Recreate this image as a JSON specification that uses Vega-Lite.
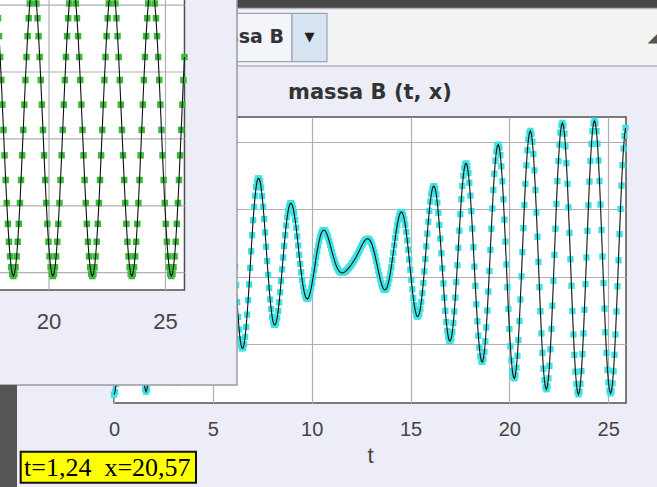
{
"$schema":"https://vega.github.io/schema/vega-lite/v6.json",
"width":512,"height":286,
"autosize":{"type":"none"},
"padding":{"left":114,"top":117,"right":31,"bottom":84},
"background":"#ededf7",
"config":{"view":{"fill":"white","stroke":"#505050","strokeWidth":1.5}},
"datasets":{
"one":[{"k":1}],
"og":[{"t":20},{"t":25}],
"oh":[{"x":10},{"x":15},{"x":20},{"x":25},{"x":30}],
"b":[{"t":0,"x":11.23},{"t":0.051,"x":11.42},{"t":0.101,"x":12.0},{"t":0.152,"x":12.93},{"t":0.203,"x":14.19},{"t":0.253,"x":15.73},{"t":0.304,"x":17.48},{"t":0.354,"x":19.38},{"t":0.405,"x":21.35},{"t":0.456,"x":23.33},{"t":0.506,"x":25.23},{"t":0.557,"x":26.99},{"t":0.608,"x":28.52},{"t":0.658,"x":29.79},{"t":0.709,"x":30.73},{"t":0.76,"x":31.32},{"t":0.81,"x":31.53},{"t":0.861,"x":31.35},{"t":0.911,"x":30.79},{"t":0.962,"x":29.87},{"t":1.013,"x":28.63},{"t":1.063,"x":27.12},{"t":1.114,"x":25.39},{"t":1.165,"x":23.51},{"t":1.215,"x":21.56},{"t":1.266,"x":19.6},{"t":1.316,"x":17.72},{"t":1.367,"x":15.98},{"t":1.418,"x":14.46},{"t":1.468,"x":13.2},{"t":1.519,"x":12.26},{"t":1.57,"x":11.67},{"t":1.62,"x":11.45},{"t":1.671,"x":11.62},{"t":1.722,"x":12.16},{"t":1.772,"x":13.04},{"t":1.823,"x":14.25},{"t":1.873,"x":15.72},{"t":1.924,"x":17.41},{"t":1.975,"x":19.24},{"t":2.025,"x":21.15},{"t":2.076,"x":23.06},{"t":2.127,"x":24.9},{"t":2.177,"x":26.61},{"t":2.228,"x":28.1},{"t":2.279,"x":29.34},{"t":2.329,"x":30.26},{"t":2.38,"x":30.85},{"t":2.43,"x":31.07},{"t":2.481,"x":30.93},{"t":2.532,"x":30.42},{"t":2.582,"x":29.57},{"t":2.633,"x":28.41},{"t":2.684,"x":26.99},{"t":2.734,"x":25.37},{"t":2.785,"x":23.6},{"t":2.836,"x":21.75},{"t":2.886,"x":19.91},{"t":2.937,"x":18.13},{"t":2.987,"x":16.48},{"t":3.038,"x":15.03},{"t":3.089,"x":13.83},{"t":3.139,"x":12.93},{"t":3.19,"x":12.35},{"t":3.241,"x":12.13},{"t":3.291,"x":12.25},{"t":3.342,"x":12.73},{"t":3.393,"x":13.53},{"t":3.443,"x":14.63},{"t":3.494,"x":15.98},{"t":3.544,"x":17.52},{"t":3.595,"x":19.2},{"t":3.646,"x":20.96},{"t":3.696,"x":22.72},{"t":3.747,"x":24.42},{"t":3.798,"x":25.99},{"t":3.848,"x":27.38},{"t":3.899,"x":28.53},{"t":3.95,"x":29.4},{"t":4.0,"x":29.96},{"t":4.051,"x":30.19},{"t":4.101,"x":30.08},{"t":4.152,"x":29.65},{"t":4.203,"x":28.9},{"t":4.253,"x":27.88},{"t":4.304,"x":26.62},{"t":4.355,"x":25.17},{"t":4.405,"x":23.59},{"t":4.456,"x":21.94},{"t":4.507,"x":20.28},{"t":4.557,"x":18.68},{"t":4.608,"x":17.2},{"t":4.658,"x":15.89},{"t":4.709,"x":14.8},{"t":4.76,"x":13.98},{"t":4.81,"x":13.44},{"t":4.861,"x":13.21},{"t":4.912,"x":13.3},{"t":4.962,"x":13.69},{"t":5.013,"x":14.37},{"t":5.064,"x":15.31},{"t":5.114,"x":16.47},{"t":5.165,"x":17.81},{"t":5.215,"x":19.27},{"t":5.266,"x":20.79},{"t":5.317,"x":22.32},{"t":5.367,"x":23.8},{"t":5.418,"x":25.18},{"t":5.469,"x":26.39},{"t":5.519,"x":27.41},{"t":5.57,"x":28.18},{"t":5.62,"x":28.69},{"t":5.671,"x":28.91},{"t":5.722,"x":28.85},{"t":5.772,"x":28.51},{"t":5.823,"x":27.9},{"t":5.874,"x":27.06},{"t":5.924,"x":26.01},{"t":5.975,"x":24.8},{"t":6.026,"x":23.48},{"t":6.076,"x":22.09},{"t":6.127,"x":20.7},{"t":6.177,"x":19.36},{"t":6.228,"x":18.11},{"t":6.279,"x":17.0},{"t":6.329,"x":16.07},{"t":6.38,"x":15.36},{"t":6.431,"x":14.89},{"t":6.481,"x":14.67},{"t":6.532,"x":14.7},{"t":6.583,"x":14.99},{"t":6.633,"x":15.52},{"t":6.684,"x":16.26},{"t":6.734,"x":17.18},{"t":6.785,"x":18.25},{"t":6.836,"x":19.42},{"t":6.886,"x":20.65},{"t":6.937,"x":21.88},{"t":6.988,"x":23.08},{"t":7.038,"x":24.19},{"t":7.089,"x":25.18},{"t":7.14,"x":26.01},{"t":7.19,"x":26.65},{"t":7.241,"x":27.09},{"t":7.291,"x":27.3},{"t":7.342,"x":27.29},{"t":7.393,"x":27.05},{"t":7.443,"x":26.61},{"t":7.494,"x":25.98},{"t":7.545,"x":25.2},{"t":7.595,"x":24.28},{"t":7.646,"x":23.28},{"t":7.697,"x":22.22},{"t":7.747,"x":21.16},{"t":7.798,"x":20.12},{"t":7.848,"x":19.16},{"t":7.899,"x":18.3},{"t":7.95,"x":17.58},{"t":8.0,"x":17.01},{"t":8.051,"x":16.62},{"t":8.102,"x":16.42},{"t":8.152,"x":16.41},{"t":8.203,"x":16.58},{"t":8.254,"x":16.93},{"t":8.304,"x":17.44},{"t":8.355,"x":18.09},{"t":8.405,"x":18.84},{"t":8.456,"x":19.67},{"t":8.507,"x":20.54},{"t":8.557,"x":21.42},{"t":8.608,"x":22.28},{"t":8.659,"x":23.08},{"t":8.709,"x":23.8},{"t":8.76,"x":24.41},{"t":8.81,"x":24.89},{"t":8.861,"x":25.23},{"t":8.912,"x":25.42},{"t":8.962,"x":25.46},{"t":9.013,"x":25.34},{"t":9.064,"x":25.08},{"t":9.114,"x":24.7},{"t":9.165,"x":24.21},{"t":9.216,"x":23.63},{"t":9.266,"x":22.99},{"t":9.317,"x":22.31},{"t":9.367,"x":21.62},{"t":9.418,"x":20.95},{"t":9.469,"x":20.32},{"t":9.519,"x":19.75},{"t":9.57,"x":19.26},{"t":9.621,"x":18.86},{"t":9.671,"x":18.57},{"t":9.722,"x":18.4},{"t":9.773,"x":18.34},{"t":9.823,"x":18.39},{"t":9.874,"x":18.55},{"t":9.924,"x":18.8},{"t":9.975,"x":19.14},{"t":10.026,"x":19.54},{"t":10.076,"x":19.99},{"t":10.127,"x":20.47},{"t":10.178,"x":20.96},{"t":10.228,"x":21.44},{"t":10.279,"x":21.89},{"t":10.33,"x":22.31},{"t":10.38,"x":22.68},{"t":10.431,"x":22.98},{"t":10.481,"x":23.21},{"t":10.532,"x":23.37},{"t":10.583,"x":23.45},{"t":10.633,"x":23.46},{"t":10.684,"x":23.4},{"t":10.735,"x":23.28},{"t":10.785,"x":23.1},{"t":10.836,"x":22.89},{"t":10.887,"x":22.63},{"t":10.937,"x":22.36},{"t":10.988,"x":22.08},{"t":11.038,"x":21.79},{"t":11.089,"x":21.52},{"t":11.14,"x":21.26},{"t":11.19,"x":21.03},{"t":11.241,"x":20.82},{"t":11.292,"x":20.65},{"t":11.342,"x":20.51},{"t":11.393,"x":20.4},{"t":11.444,"x":20.33},{"t":11.494,"x":20.29},{"t":11.545,"x":20.28},{"t":11.595,"x":20.29},{"t":11.646,"x":20.33},{"t":11.697,"x":20.37},{"t":11.747,"x":20.44},{"t":11.798,"x":20.51},{"t":11.849,"x":20.6},{"t":11.899,"x":20.69},{"t":11.95,"x":20.78},{"t":12.0,"x":20.88},{"t":12.051,"x":20.99},{"t":12.102,"x":21.1},{"t":12.152,"x":21.22},{"t":12.203,"x":21.35},{"t":12.254,"x":21.48},{"t":12.304,"x":21.62},{"t":12.355,"x":21.77},{"t":12.406,"x":21.92},{"t":12.456,"x":22.07},{"t":12.507,"x":22.22},{"t":12.557,"x":22.37},{"t":12.608,"x":22.5},{"t":12.659,"x":22.62},{"t":12.709,"x":22.72},{"t":12.76,"x":22.78},{"t":12.811,"x":22.82},{"t":12.861,"x":22.81},{"t":12.912,"x":22.76},{"t":12.963,"x":22.66},{"t":13.013,"x":22.52},{"t":13.064,"x":22.32},{"t":13.114,"x":22.08},{"t":13.165,"x":21.81},{"t":13.216,"x":21.49},{"t":13.266,"x":21.16},{"t":13.317,"x":20.81},{"t":13.368,"x":20.45},{"t":13.418,"x":20.11},{"t":13.469,"x":19.79},{"t":13.52,"x":19.51},{"t":13.57,"x":19.28},{"t":13.621,"x":19.12},{"t":13.671,"x":19.02},{"t":13.722,"x":19.01},{"t":13.773,"x":19.09},{"t":13.823,"x":19.25},{"t":13.874,"x":19.5},{"t":13.925,"x":19.83},{"t":13.975,"x":20.24},{"t":14.026,"x":20.71},{"t":14.077,"x":21.23},{"t":14.127,"x":21.78},{"t":14.178,"x":22.33},{"t":14.228,"x":22.88},{"t":14.279,"x":23.39},{"t":14.33,"x":23.86},{"t":14.38,"x":24.24},{"t":14.431,"x":24.54},{"t":14.482,"x":24.73},{"t":14.532,"x":24.81},{"t":14.583,"x":24.76},{"t":14.634,"x":24.58},{"t":14.684,"x":24.27},{"t":14.735,"x":23.85},{"t":14.785,"x":23.31},{"t":14.836,"x":22.69},{"t":14.887,"x":22.0},{"t":14.937,"x":21.27},{"t":14.988,"x":20.51},{"t":15.039,"x":19.77},{"t":15.089,"x":19.06},{"t":15.14,"x":18.42},{"t":15.191,"x":17.88},{"t":15.241,"x":17.45},{"t":15.292,"x":17.16},{"t":15.342,"x":17.03},{"t":15.393,"x":17.06},{"t":15.444,"x":17.25},{"t":15.494,"x":17.61},{"t":15.545,"x":18.12},{"t":15.596,"x":18.77},{"t":15.646,"x":19.53},{"t":15.697,"x":20.39},{"t":15.747,"x":21.31},{"t":15.798,"x":22.25},{"t":15.849,"x":23.19},{"t":15.899,"x":24.08},{"t":15.95,"x":24.89},{"t":16.001,"x":25.58},{"t":16.051,"x":26.13},{"t":16.102,"x":26.51},{"t":16.153,"x":26.71},{"t":16.203,"x":26.71},{"t":16.254,"x":26.5},{"t":16.304,"x":26.1},{"t":16.355,"x":25.5},{"t":16.406,"x":24.74},{"t":16.456,"x":23.84},{"t":16.507,"x":22.82},{"t":16.558,"x":21.73},{"t":16.608,"x":20.61},{"t":16.659,"x":19.49},{"t":16.71,"x":18.43},{"t":16.76,"x":17.46},{"t":16.811,"x":16.62},{"t":16.861,"x":15.96},{"t":16.912,"x":15.49},{"t":16.963,"x":15.24},{"t":17.013,"x":15.22},{"t":17.064,"x":15.43},{"t":17.115,"x":15.88},{"t":17.165,"x":16.55},{"t":17.216,"x":17.41},{"t":17.267,"x":18.44},{"t":17.317,"x":19.6},{"t":17.368,"x":20.85},{"t":17.418,"x":22.14},{"t":17.469,"x":23.42},{"t":17.52,"x":24.64},{"t":17.57,"x":25.76},{"t":17.621,"x":26.73},{"t":17.672,"x":27.5},{"t":17.722,"x":28.06},{"t":17.773,"x":28.37},{"t":17.824,"x":28.41},{"t":17.874,"x":28.19},{"t":17.925,"x":27.7},{"t":17.975,"x":26.97},{"t":18.026,"x":26.01},{"t":18.077,"x":24.87},{"t":18.127,"x":23.57},{"t":18.178,"x":22.18},{"t":18.229,"x":20.74},{"t":18.279,"x":19.31},{"t":18.33,"x":17.94},{"t":18.381,"x":16.68},{"t":18.431,"x":15.6},{"t":18.482,"x":14.72},{"t":18.532,"x":14.09},{"t":18.583,"x":13.73},{"t":18.634,"x":13.66},{"t":18.684,"x":13.89},{"t":18.735,"x":14.4},{"t":18.786,"x":15.2},{"t":18.836,"x":16.23},{"t":18.887,"x":17.48},{"t":18.937,"x":18.89},{"t":18.988,"x":20.42},{"t":19.039,"x":21.99},{"t":19.089,"x":23.56},{"t":19.14,"x":25.06},{"t":19.191,"x":26.44},{"t":19.241,"x":27.64},{"t":19.292,"x":28.61},{"t":19.343,"x":29.31},{"t":19.393,"x":29.71},{"t":19.444,"x":29.81},{"t":19.494,"x":29.58},{"t":19.545,"x":29.03},{"t":19.596,"x":28.19},{"t":19.646,"x":27.08},{"t":19.697,"x":25.74},{"t":19.748,"x":24.23},{"t":19.798,"x":22.6},{"t":19.849,"x":20.9},{"t":19.9,"x":19.21},{"t":19.95,"x":17.6},{"t":20.001,"x":16.11},{"t":20.051,"x":14.82},{"t":20.102,"x":13.77},{"t":20.153,"x":13.0},{"t":20.203,"x":12.56},{"t":20.254,"x":12.44},{"t":20.305,"x":12.67},{"t":20.355,"x":13.24},{"t":20.406,"x":14.12},{"t":20.457,"x":15.29},{"t":20.507,"x":16.7},{"t":20.558,"x":18.3},{"t":20.608,"x":20.02},{"t":20.659,"x":21.82},{"t":20.71,"x":23.6},{"t":20.76,"x":25.32},{"t":20.811,"x":26.89},{"t":20.862,"x":28.27},{"t":20.912,"x":29.39},{"t":20.963,"x":30.2},{"t":21.014,"x":30.69},{"t":21.064,"x":30.83},{"t":21.115,"x":30.6},{"t":21.165,"x":30.02},{"t":21.216,"x":29.11},{"t":21.267,"x":27.89},{"t":21.317,"x":26.43},{"t":21.368,"x":24.76},{"t":21.419,"x":22.96},{"t":21.469,"x":21.09},{"t":21.52,"x":19.22},{"t":21.571,"x":17.43},{"t":21.621,"x":15.78},{"t":21.672,"x":14.34},{"t":21.722,"x":13.16},{"t":21.773,"x":12.3},{"t":21.824,"x":11.78},{"t":21.874,"x":11.63},{"t":21.925,"x":11.85},{"t":21.976,"x":12.44},{"t":22.026,"x":13.37},{"t":22.077,"x":14.61},{"t":22.127,"x":16.12},{"t":22.178,"x":17.84},{"t":22.229,"x":19.69},{"t":22.279,"x":21.62},{"t":22.33,"x":23.55},{"t":22.381,"x":25.4},{"t":22.431,"x":27.1},{"t":22.482,"x":28.59},{"t":22.533,"x":29.81},{"t":22.583,"x":30.71},{"t":22.634,"x":31.25},{"t":22.684,"x":31.42},{"t":22.735,"x":31.21},{"t":22.786,"x":30.62},{"t":22.836,"x":29.68},{"t":22.887,"x":28.42},{"t":22.938,"x":26.89},{"t":22.988,"x":25.14},{"t":23.039,"x":23.25},{"t":23.09,"x":21.29},{"t":23.14,"x":19.32},{"t":23.191,"x":17.44},{"t":23.241,"x":15.7},{"t":23.292,"x":14.18},{"t":23.343,"x":12.93},{"t":23.393,"x":12.0},{"t":23.444,"x":11.44},{"t":23.495,"x":11.25},{"t":23.545,"x":11.45},{"t":23.596,"x":12.04},{"t":23.647,"x":12.98},{"t":23.697,"x":14.24},{"t":23.748,"x":15.78},{"t":23.798,"x":17.54},{"t":23.849,"x":19.44},{"t":23.9,"x":21.42},{"t":23.95,"x":23.4},{"t":24.001,"x":25.3},{"t":24.052,"x":27.06},{"t":24.102,"x":28.6},{"t":24.153,"x":29.86},{"t":24.204,"x":30.8},{"t":24.254,"x":31.38},{"t":24.305,"x":31.58},{"t":24.355,"x":31.39},{"t":24.406,"x":30.81},{"t":24.457,"x":29.88},{"t":24.507,"x":28.63},{"t":24.558,"x":27.1},{"t":24.609,"x":25.36},{"t":24.659,"x":23.46},{"t":24.71,"x":21.49},{"t":24.761,"x":19.52},{"t":24.811,"x":17.62},{"t":24.862,"x":15.87},{"t":24.912,"x":14.33},{"t":24.963,"x":13.07},{"t":25.014,"x":12.13},{"t":25.064,"x":11.54},{"t":25.115,"x":11.33},{"t":25.166,"x":11.5},{"t":25.216,"x":12.06},{"t":25.267,"x":12.97},{"t":25.318,"x":14.19},{"t":25.368,"x":15.7},{"t":25.419,"x":17.41},{"t":25.469,"x":19.28},{"t":25.52,"x":21.22},{"t":25.571,"x":23.16},{"t":25.621,"x":25.03},{"t":25.672,"x":26.76},{"t":25.723,"x":28.28},{"t":25.773,"x":29.53},{"t":25.824,"x":30.47},{"t":25.874,"x":31.05}],
"g":[{"t":17.811,"x":29.02},{"t":17.858,"x":27.68},{"t":17.905,"x":26.12},{"t":17.952,"x":24.4},{"t":17.999,"x":22.56},{"t":18.046,"x":20.67},{"t":18.093,"x":18.77},{"t":18.14,"x":16.93},{"t":18.188,"x":15.21},{"t":18.235,"x":13.65},{"t":18.282,"x":12.31},{"t":18.329,"x":11.22},{"t":18.376,"x":10.41},{"t":18.423,"x":9.92},{"t":18.47,"x":9.75},{"t":18.517,"x":9.92},{"t":18.564,"x":10.41},{"t":18.611,"x":11.22},{"t":18.658,"x":12.31},{"t":18.705,"x":13.65},{"t":18.753,"x":15.21},{"t":18.8,"x":16.93},{"t":18.847,"x":18.77},{"t":18.894,"x":20.67},{"t":18.941,"x":22.56},{"t":18.988,"x":24.4},{"t":19.035,"x":26.12},{"t":19.082,"x":27.68},{"t":19.129,"x":29.02},{"t":19.176,"x":30.12},{"t":19.223,"x":30.92},{"t":19.27,"x":31.41},{"t":19.317,"x":31.58},{"t":19.365,"x":31.41},{"t":19.412,"x":30.92},{"t":19.459,"x":30.12},{"t":19.506,"x":29.02},{"t":19.553,"x":27.68},{"t":19.6,"x":26.12},{"t":19.647,"x":24.4},{"t":19.694,"x":22.56},{"t":19.741,"x":20.67},{"t":19.788,"x":18.77},{"t":19.835,"x":16.93},{"t":19.882,"x":15.21},{"t":19.93,"x":13.65},{"t":19.977,"x":12.31},{"t":20.024,"x":11.22},{"t":20.071,"x":10.41},{"t":20.118,"x":9.92},{"t":20.165,"x":9.75},{"t":20.212,"x":9.92},{"t":20.259,"x":10.41},{"t":20.306,"x":11.22},{"t":20.353,"x":12.31},{"t":20.4,"x":13.65},{"t":20.448,"x":15.21},{"t":20.495,"x":16.93},{"t":20.542,"x":18.77},{"t":20.589,"x":20.67},{"t":20.636,"x":22.56},{"t":20.683,"x":24.4},{"t":20.73,"x":26.12},{"t":20.777,"x":27.68},{"t":20.824,"x":29.02},{"t":20.871,"x":30.12},{"t":20.918,"x":30.92},{"t":20.965,"x":31.41},{"t":21.013,"x":31.58},{"t":21.06,"x":31.41},{"t":21.107,"x":30.92},{"t":21.154,"x":30.12},{"t":21.201,"x":29.02},{"t":21.248,"x":27.68},{"t":21.295,"x":26.12},{"t":21.342,"x":24.4},{"t":21.389,"x":22.56},{"t":21.436,"x":20.67},{"t":21.483,"x":18.77},{"t":21.53,"x":16.93},{"t":21.578,"x":15.21},{"t":21.625,"x":13.65},{"t":21.672,"x":12.31},{"t":21.719,"x":11.22},{"t":21.766,"x":10.41},{"t":21.813,"x":9.92},{"t":21.86,"x":9.75},{"t":21.907,"x":9.92},{"t":21.954,"x":10.41},{"t":22.001,"x":11.22},{"t":22.048,"x":12.31},{"t":22.095,"x":13.65},{"t":22.143,"x":15.21},{"t":22.19,"x":16.93},{"t":22.237,"x":18.77},{"t":22.284,"x":20.67},{"t":22.331,"x":22.56},{"t":22.378,"x":24.4},{"t":22.425,"x":26.12},{"t":22.472,"x":27.68},{"t":22.519,"x":29.02},{"t":22.566,"x":30.12},{"t":22.613,"x":30.92},{"t":22.66,"x":31.41},{"t":22.708,"x":31.58},{"t":22.755,"x":31.41},{"t":22.802,"x":30.92},{"t":22.849,"x":30.12},{"t":22.896,"x":29.02},{"t":22.943,"x":27.68},{"t":22.99,"x":26.12},{"t":23.037,"x":24.4},{"t":23.084,"x":22.56},{"t":23.131,"x":20.67},{"t":23.178,"x":18.77},{"t":23.225,"x":16.93},{"t":23.273,"x":15.21},{"t":23.32,"x":13.65},{"t":23.367,"x":12.31},{"t":23.414,"x":11.22},{"t":23.461,"x":10.41},{"t":23.508,"x":9.92},{"t":23.555,"x":9.75},{"t":23.602,"x":9.92},{"t":23.649,"x":10.41},{"t":23.696,"x":11.22},{"t":23.743,"x":12.31},{"t":23.79,"x":13.65},{"t":23.838,"x":15.21},{"t":23.885,"x":16.93},{"t":23.932,"x":18.77},{"t":23.979,"x":20.67},{"t":24.026,"x":22.56},{"t":24.073,"x":24.4},{"t":24.12,"x":26.12},{"t":24.167,"x":27.68},{"t":24.214,"x":29.02},{"t":24.261,"x":30.12},{"t":24.308,"x":30.92},{"t":24.355,"x":31.41},{"t":24.403,"x":31.58},{"t":24.45,"x":31.41},{"t":24.497,"x":30.92},{"t":24.544,"x":30.12},{"t":24.591,"x":29.02},{"t":24.638,"x":27.68},{"t":24.685,"x":26.12},{"t":24.732,"x":24.4},{"t":24.779,"x":22.56},{"t":24.826,"x":20.67},{"t":24.873,"x":18.77},{"t":24.92,"x":16.93},{"t":24.968,"x":15.21},{"t":25.015,"x":13.65},{"t":25.062,"x":12.31},{"t":25.109,"x":11.22},{"t":25.156,"x":10.41},{"t":25.203,"x":9.92},{"t":25.25,"x":9.75},{"t":25.297,"x":9.92},{"t":25.344,"x":10.41},{"t":25.391,"x":11.22},{"t":25.438,"x":12.31},{"t":25.485,"x":13.65},{"t":25.533,"x":15.21},{"t":25.58,"x":16.93},{"t":25.627,"x":18.77},{"t":25.674,"x":20.67},{"t":25.721,"x":22.56},{"t":25.768,"x":24.4},{"t":25.815,"x":26.12}]
},
"layer":[
{
"data":{"name":"b"},
"layer":[
{"mark":{"type":"point","shape":"square","filled":true,"size":40,"color":"#3fe2e2","opacity":1},
"encoding":{
"x":{"field":"t","type":"quantitative","scale":{"domain":[0,25.9],"nice":false,"zero":false},
"axis":{"values":[0,5,10,15,20,25],"grid":true,"gridColor":"#b0b0b0","gridWidth":1.2,"domain":false,"ticks":false,"labelFont":"Liberation Sans","labelFontSize":20,"labelColor":"#444444","labelPadding":16,"labelFlush":false,"title":"t","titleFont":"Liberation Sans","titleFontSize":22,"titleFontWeight":"normal","titleColor":"#444444","titlePadding":6}},
"y":{"field":"x","type":"quantitative","scale":{"domain":[10.61,31.86],"nice":false,"zero":false},
"axis":{"values":[15,20,25,30],"grid":true,"gridColor":"#b0b0b0","gridWidth":1.2,"domain":false,"ticks":false,"labels":false,"title":null}}}},
{"mark":{"type":"line","color":"#111111","strokeWidth":1.1},
"encoding":{
"x":{"field":"t","type":"quantitative","scale":{"domain":[0,25.9],"nice":false,"zero":false},"title":"t"},
"y":{"field":"x","type":"quantitative","scale":{"domain":[10.61,31.86],"nice":false,"zero":false},"title":null}}},
{"data":{"name":"one"},"mark":{"type":"text","text":"massa B (t, x)","font":"DejaVu Sans","fontSize":21,"fontWeight":"bold","color":"#333333","align":"center","baseline":"alphabetic"},
"encoding":{"x":{"datum":12.95,"type":"quantitative","scale":{"domain":[0,25.9],"nice":false,"zero":false},"title":"t"},"y":{"datum":33.2,"type":"quantitative","scale":{"domain":[10.61,31.86],"nice":false,"zero":false},"title":null}}}
]
},
{
"layer":[
{"data":{"name":"one"},"mark":{"type":"rect","fill":"#484848"},
"encoding":{"x":{"datum":28.069,"type":"quantitative","scale":{"domain":[22.79,44.764],"nice":false,"zero":false},"axis":null},"x2":{"datum":46.438},"y":{"datum":30.755,"type":"quantitative","scale":{"domain":[0.262,21.637],"nice":false,"zero":false},"axis":null},"y2":{"datum":29.746}}},
{"data":{"name":"one"},"mark":{"type":"rect","fill":"#f3f3f3","stroke":"#b4b4bc","strokeWidth":1.5},
"encoding":{"x":{"datum":28.069,"type":"quantitative","scale":{"domain":[22.79,44.764],"nice":false,"zero":false},"axis":null},"x2":{"datum":46.438},"y":{"datum":29.746,"type":"quantitative","scale":{"domain":[0.262,21.637],"nice":false,"zero":false},"axis":null},"y2":{"datum":25.448}}},
{"data":{"name":"one"},"mark":{"type":"rect","fill":"#f3f5fa","stroke":"#98a6bc","strokeWidth":1.2},
"encoding":{"x":{"datum":26.481,"type":"quantitative","scale":{"domain":[22.79,44.764],"nice":false,"zero":false},"axis":null},"x2":{"datum":30.429},"y":{"datum":29.387,"type":"quantitative","scale":{"domain":[0.262,21.637],"nice":false,"zero":false},"axis":null},"y2":{"datum":25.77}}},
{"data":{"name":"one"},"mark":{"type":"rect","fill":"#d9e4f3","stroke":"#98a6bc","strokeWidth":1.2},
"encoding":{"x":{"datum":30.429,"type":"quantitative","scale":{"domain":[22.79,44.764],"nice":false,"zero":false},"axis":null},"x2":{"datum":31.931},"y":{"datum":29.387,"type":"quantitative","scale":{"domain":[0.262,21.637],"nice":false,"zero":false},"axis":null},"y2":{"datum":25.77}}},
{"data":{"name":"one"},"mark":{"type":"text","text":"massa B","font":"DejaVu Sans","fontSize":19,"fontWeight":"bold","color":"#333333","align":"right","baseline":"middle"},
"encoding":{"x":{"datum":30.086,"type":"quantitative","scale":{"domain":[22.79,44.764],"nice":false,"zero":false},"axis":null},"y":{"datum":27.616,"type":"quantitative","scale":{"domain":[0.262,21.637],"nice":false,"zero":false},"axis":null}}},
{"data":{"name":"one"},"mark":{"type":"text","text":"▼","font":"DejaVu Sans","fontSize":13,"color":"#222222","align":"center","baseline":"middle"},
"encoding":{"x":{"datum":31.18,"type":"quantitative","scale":{"domain":[22.79,44.764],"nice":false,"zero":false},"axis":null},"y":{"datum":27.58,"type":"quantitative","scale":{"domain":[0.262,21.637],"nice":false,"zero":false},"axis":null}}},
{"data":{"name":"one"},"mark":{"type":"text","text":"◢","font":"DejaVu Sans","fontSize":13,"color":"#555555","align":"center","baseline":"middle"},
"encoding":{"x":{"datum":45.9,"type":"quantitative","scale":{"domain":[22.79,44.764],"nice":false,"zero":false},"axis":null},"y":{"datum":27.54,"type":"quantitative","scale":{"domain":[0.262,21.637],"nice":false,"zero":false},"axis":null}}},
{"data":{"name":"one"},"mark":{"type":"rect","fill":"#ededf7","stroke":"#9a9aa6","strokeWidth":1.5},
"encoding":{"x":{"datum":17.682,"type":"quantitative","scale":{"domain":[22.79,44.764],"nice":false,"zero":false},"axis":null},"x2":{"datum":28.069},"y":{"datum":33.371,"type":"quantitative","scale":{"domain":[0.262,21.637],"nice":false,"zero":false},"axis":null},"y2":{"datum":1.607}}},
{"data":{"name":"one"},"mark":{"type":"rect","fill":"white","stroke":"#505050","strokeWidth":1.5},
"encoding":{"x":{"datum":17.682,"type":"quantitative","scale":{"domain":[22.79,44.764],"nice":false,"zero":false},"axis":null},"x2":{"datum":25.815},"y":{"datum":33.371,"type":"quantitative","scale":{"domain":[0.262,21.637],"nice":false,"zero":false},"axis":null},"y2":{"datum":8.707}}},
{"data":{"name":"og"},"mark":{"type":"rule","color":"#b0b0b0","strokeWidth":1.2},
"encoding":{"x":{"field":"t","type":"quantitative","scale":{"domain":[22.79,44.764],"nice":false,"zero":false},"axis":null},"y":{"datum":8.707,"type":"quantitative","scale":{"domain":[0.262,21.637],"nice":false,"zero":false},"axis":null},"y2":{"datum":33.371}}},
{"data":{"name":"oh"},"mark":{"type":"rule","color":"#b0b0b0","strokeWidth":1.2},
"encoding":{"y":{"field":"x","type":"quantitative","scale":{"domain":[0.262,21.637],"nice":false,"zero":false},"axis":null},"x":{"datum":17.682,"type":"quantitative","scale":{"domain":[22.79,44.764],"nice":false,"zero":false},"axis":null},"x2":{"datum":25.815}}},
{"data":{"name":"g"},"mark":{"type":"point","shape":"square","filled":true,"size":42,"color":"#3dba3d","opacity":1},
"encoding":{"x":{"field":"t","type":"quantitative","scale":{"domain":[22.79,44.764],"nice":false,"zero":false},"axis":null},"y":{"field":"x","type":"quantitative","scale":{"domain":[0.262,21.637],"nice":false,"zero":false},"axis":null}}},
{"data":{"name":"g"},"mark":{"type":"line","color":"#111111","strokeWidth":1.1},
"encoding":{"x":{"field":"t","type":"quantitative","scale":{"domain":[22.79,44.764],"nice":false,"zero":false},"axis":null},"y":{"field":"x","type":"quantitative","scale":{"domain":[0.262,21.637],"nice":false,"zero":false},"axis":null}}},
{"data":{"name":"og"},"mark":{"type":"text","font":"Liberation Sans","fontSize":22,"color":"#444444","align":"center","baseline":"middle"},
"encoding":{"text":{"field":"t","type":"quantitative"},"x":{"field":"t","type":"quantitative","scale":{"domain":[22.79,44.764],"nice":false,"zero":false},"axis":null},"y":{"datum":6.315,"type":"quantitative","scale":{"domain":[0.262,21.637],"nice":false,"zero":false},"axis":null}}},
{"data":{"name":"one"},"mark":{"type":"rect","fill":"#555555"},
"encoding":{"x":{"datum":17.682,"type":"quantitative","scale":{"domain":[22.79,44.764],"nice":false,"zero":false},"axis":null},"x2":{"datum":18.627},"y":{"datum":1.607,"type":"quantitative","scale":{"domain":[0.262,21.637],"nice":false,"zero":false},"axis":null},"y2":{"datum":-6.614}}},
{"data":{"name":"one"},"mark":{"type":"rect","fill":"#ffff00","stroke":"#111111","strokeWidth":2},
"encoding":{"x":{"datum":18.785,"type":"quantitative","scale":{"domain":[22.79,44.764],"nice":false,"zero":false},"axis":null},"x2":{"datum":26.309},"y":{"datum":-3.378,"type":"quantitative","scale":{"domain":[0.262,21.637],"nice":false,"zero":false},"axis":null},"y2":{"datum":-5.695}}},
{"data":{"name":"one"},"mark":{"type":"text","text":"t=1,24\u00a0\u00a0x=20,57","font":"Liberation Serif","fontSize":26,"color":"#000000","align":"left","baseline":"middle"},
"encoding":{"x":{"datum":18.927,"type":"quantitative","scale":{"domain":[22.79,44.764],"nice":false,"zero":false},"axis":null},"y":{"datum":-4.559,"type":"quantitative","scale":{"domain":[0.262,21.637],"nice":false,"zero":false},"axis":null}}}
]
}
],
"resolve":{"scale":{"x":"independent","y":"independent"},"axis":{"x":"independent","y":"independent"}}
}
